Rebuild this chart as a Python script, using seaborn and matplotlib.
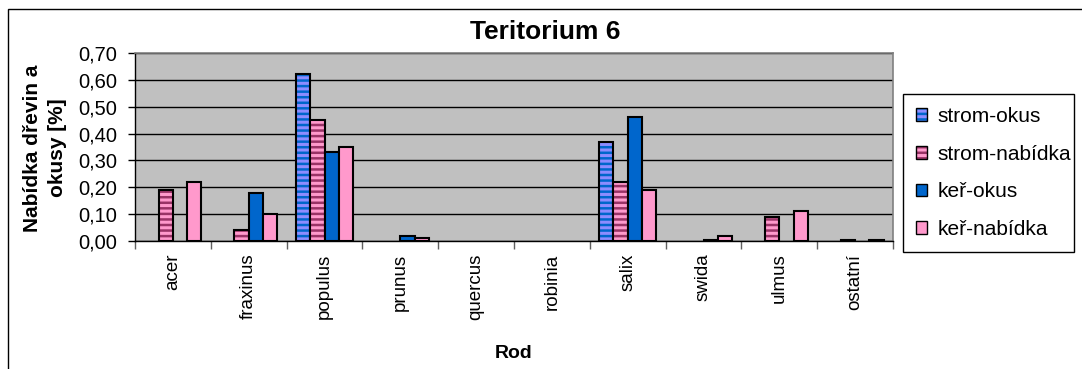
import matplotlib
matplotlib.use("Agg")
import numpy as np
import pandas as pd
import matplotlib.pyplot as plt
import seaborn as sns
from matplotlib.patches import Patch, Rectangle
from matplotlib.colors import to_rgba
from matplotlib.ticker import FuncFormatter, MultipleLocator, FixedLocator

# --- data -------------------------------------------------------------
genera = ["acer", "fraxinus", "populus", "prunus", "quercus",
          "robinia", "salix", "swida", "ulmus", "ostatní"]
series = ["strom-okus", "strom-nabídka", "keř-okus", "keř-nabídka"]
strom_okus = [0.00, 0.00, 0.62, 0.00, 0.00, 0.00, 0.37, 0.00, 0.00, 0.00]
strom_nabidka = [0.19, 0.04, 0.45, 0.00, 0.00, 0.00, 0.22, 0.00, 0.09, 0.004]
ker_okus = [0.00, 0.18, 0.33, 0.02, 0.00, 0.00, 0.46, 0.005, 0.00, 0.00]
ker_nabidka = [0.22, 0.10, 0.35, 0.01, 0.00, 0.00, 0.19, 0.02, 0.11, 0.004]

# --- styling ----------------------------------------------------------
face = {"strom-okus": "#8C8CFF", "strom-nabídka": "#FF99CC",
        "keř-okus": "#0066CC", "keř-nabídka": "#FF99CC"}
stripes = {"strom-okus": "#0066CC", "strom-nabídka": "#993366"}

sns.set_theme(style="white")
plt.rcParams["font.family"] = ["Liberation Sans", "DejaVu Sans"]
plt.rcParams["hatch.linewidth"] = 1.8
for key in ("text.color", "axes.labelcolor", "xtick.color", "ytick.color"):
    plt.rcParams[key] = "black"

df = pd.DataFrame({
    "Rod": np.repeat(genera, len(series)),
    "řada": series * len(genera),
    "hodnota": np.column_stack([strom_okus, strom_nabidka,
                                ker_okus, ker_nabidka]).ravel(),
})

W, H = 1082, 369
fig = plt.figure(figsize=(W / 100, H / 100), dpi=100)
ax = fig.add_axes([135 / W, 1 - 241 / H, (893 - 135) / W, (241 - 53) / H])
ax.set_facecolor("#C0C0C0")

sns.barplot(data=df, x="Rod", y="hodnota", hue="řada", order=genera,
            hue_order=series, palette=face, width=0.75, gap=0,
            saturation=1, edgecolor="black", linewidth=1.5,
            errorbar=None, legend=False, ax=ax, zorder=3)

for name, cont in zip(series, ax.containers):
    for bar in cont:
        if bar.get_height() == 0:
            bar.set_visible(False)
        if name in stripes:
            bar.set_hatch("---")
            bar._hatch_color = to_rgba(stripes[name])

# axes
ax.set_xlim(-0.5, len(genera) - 0.5)
ax.set_ylim(0, 0.70)
ax.yaxis.set_major_locator(MultipleLocator(0.10))
ax.yaxis.set_major_formatter(FuncFormatter(lambda v, p: f"{v:.2f}".replace(".", ",")))
ax.grid(axis="y", color="black", linewidth=1.0, zorder=1)
ax.set_axisbelow(True)
ax.xaxis.set_minor_locator(FixedLocator(np.arange(-0.5, len(genera), 1.0)))
ax.tick_params(axis="x", which="major", length=0, pad=9, labelsize=13.5,
               rotation=90)
ax.tick_params(axis="x", which="minor", length=6, width=1, color="#606060",
               direction="out", bottom=True)
ax.tick_params(axis="y", length=5, width=1, color="black", direction="out",
               left=True, labelsize=14.5, pad=8)
for side in ("top", "right"):
    ax.spines[side].set_color("#808080")
    ax.spines[side].set_linewidth(1.2)
for side in ("left", "bottom"):
    ax.spines[side].set_color("black")
    ax.spines[side].set_linewidth(1.0)

ax.set_xlabel("")
ax.set_ylabel("")
fig.text(545 / W, 1 - 32 / H, "Teritorium 6", ha="center", va="center",
         fontsize=19, fontweight="bold")
fig.text(514 / W, 1 - 353 / H, "Rod", ha="center", va="center",
         fontsize=14, fontweight="bold")
fig.text(45 / W, 1 - 148 / H, "Nabídka dřevin a\nokusy [%]", ha="center",
         va="center", rotation=90, fontsize=15, fontweight="bold",
         linespacing=1.4)

# legend
handles = []
for name in series:
    p = Patch(facecolor=face[name], edgecolor="black", linewidth=1.0,
              hatch="---" if name in stripes else None, label=name)
    if name in stripes:
        p._hatch_color = to_rgba(stripes[name])
    handles.append(p)
leg = fig.legend(handles=handles, loc="center left",
                 bbox_to_anchor=(903 / W, 1 - 249 / H, (1074 - 903) / W, (249 - 97) / H),
                 mode="expand", fontsize=15, frameon=True, fancybox=False,
                 edgecolor="black", framealpha=1, borderpad=0.6,
                 labelspacing=0.9, handlelength=0.55, handleheight=0.55,
                 handletextpad=0.5, borderaxespad=0)
leg.get_frame().set_linewidth(1.0)
for p, name in zip(leg.get_patches(), series):
    if name in stripes:
        p._hatch_color = to_rgba(stripes[name])

# chart frame
fig.add_artist(Rectangle((8 / W, -0.5), 2.0, 0.5 + 1 - 9 / H,
                         transform=fig.transFigure, fill=False,
                         edgecolor="black", linewidth=1.0, clip_on=False))

fig.savefig("out.png", dpi=100, facecolor="white")
